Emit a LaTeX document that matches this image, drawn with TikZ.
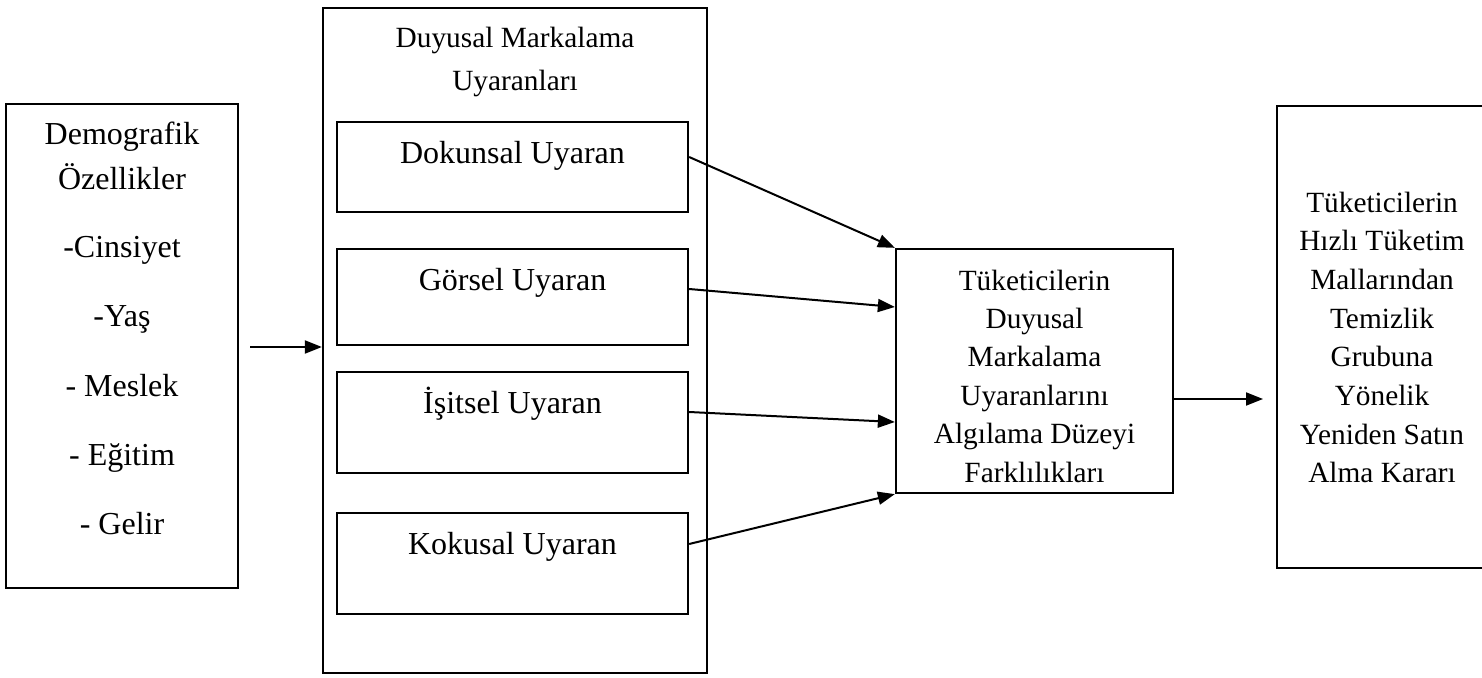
\documentclass[tikz,border=0pt]{standalone}
\usepackage{fontspec}
\setmainfont{Liberation Serif}
\usetikzlibrary{arrows.meta}
\begin{document}
\begin{tikzpicture}[x=0.5pt,y=-0.5pt,
  box/.style={draw, line width=1.15pt, rectangle, inner sep=0pt},
  txt/.style={inner sep=0pt, align=center},
  fs/.style={font=\fontsize{16}{#1}\selectfont},
  fss/.style={font=\fontsize{14.67}{#1}\selectfont},
  conn/.style={line width=1pt, -{Triangle[length=8.5pt,width=6.5pt]}}]
\useasboundingbox (0,0) rectangle (1482,678);
\clip (0,0) rectangle (1482,678);

% boxes
\node[box, minimum width=116pt, minimum height=242pt] (demo) at (122,346) {};
\node[box, minimum width=192pt, minimum height=332.5pt] (duy) at (515,340.5) {};
\node[box, minimum width=175.5pt, minimum height=45pt] (dok) at (512.5,167) {};
\node[box, minimum width=175.5pt, minimum height=48pt] (gor) at (512.5,297) {};
\node[box, minimum width=175.5pt, minimum height=50.5pt] (isi) at (512.5,422.5) {};
\node[box, minimum width=175.5pt, minimum height=50.5pt] (kok) at (512.5,563.5) {};
\node[box, minimum width=138.5pt, minimum height=122pt] (alg) at (1034.5,371) {};
\node[box, minimum width=116.5pt, minimum height=231pt] (kar) at (1393.5,337) {};

% texts
\node[txt, fs=22.5] (demoT) at (122,155.5) {Demografik\\Özellikler};
\node[txt, fs=19.2, anchor=base] (i1) at (122,258) {-Cinsiyet};
\node[txt, fs=19.2, anchor=base] (i2) at (122,327) {-Yaş};
\node[txt, fs=19.2, anchor=base] (i3) at (122,396) {- Meslek};
\node[txt, fs=19.2, anchor=base] (i4) at (122,465) {- Eğitim};
\node[txt, fs=19.2, anchor=base] (i5) at (122,534) {- Gelir};

\node[txt, fss=21.5] (duyT) at (515,62) {Duyusal Markalama\\Uyaranları};
\node[txt, fs=19.2, anchor=base] (dokT) at (512.5,163.5) {Dokunsal Uyaran};
\node[txt, fs=19.2, anchor=base] (gorT) at (512.5,291) {Görsel Uyaran};
\node[txt, fs=19.2, anchor=base] (isiT) at (512.5,414) {İşitsel Uyaran};
\node[txt, fs=19.2, anchor=base] (kokT) at (512.5,554) {Kokusal Uyaran};

\node[txt, fss=19.2] (algT) at (1034.5,376) {Tüketicilerin\\Duyusal\\Markalama\\Uyaranlarını\\Algılama Düzeyi\\Farklılıkları};
\node[txt, fss=19.35] (karT) at (1382,337.5) {Tüketicilerin\\Hızlı Tüketim\\Mallarından\\Temizlik\\Grubuna\\Yönelik\\Yeniden Satın\\Alma Kararı};

% connectors
\coordinate (s0) at (250,347);
\coordinate (e5) at (1263,399);
\draw[conn] (s0) -- (duy.west |- s0);
\draw[conn] (dok.east |- 0,157) -- (alg.north west);
\draw[conn] (gor.east |- 0,289) -- (alg.west |- 0,307);
\draw[conn] (isi.east |- 0,412) -- (alg.west |- 0,422);
\draw[conn] (kok.east |- 0,544) -- (alg.south west);
\draw[conn] (alg.east |- e5) -- (e5);
\end{tikzpicture}
\end{document}
